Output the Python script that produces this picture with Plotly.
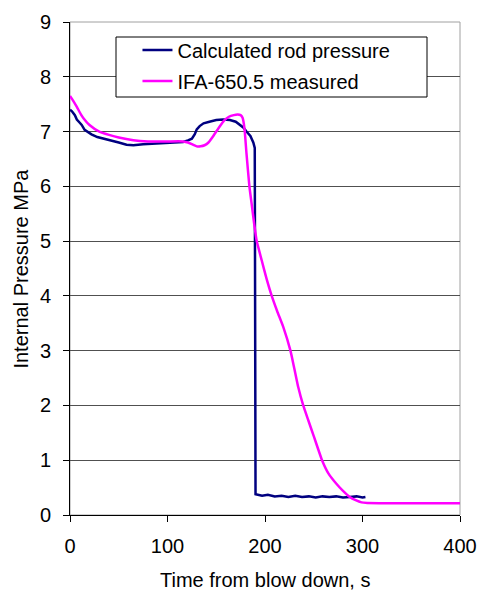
import plotly.graph_objects as go

# Calculated rod pressure (time s, pressure MPa)
calc_t = [0, 2, 5, 7, 10, 12, 15, 18, 22, 28, 35, 41, 50, 58, 65, 75, 85, 95, 105, 116, 121, 125, 128, 130, 133, 137, 143, 150, 157, 164, 170, 174, 178, 181, 185, 188, 189.5,
          190.3, 192, 197, 203, 210, 217, 224, 231, 238, 245, 252, 259, 266, 273, 280, 287, 294, 300, 303]
calc_v = [7.40, 7.37, 7.30, 7.22, 7.16, 7.12, 7.03, 6.99, 6.95, 6.90, 6.87, 6.85, 6.80, 6.76, 6.75, 6.77, 6.78, 6.78, 6.79, 6.81, 6.84, 6.87, 6.95, 7.04, 7.10, 7.15, 7.18, 7.21, 7.22, 7.21, 7.18, 7.13, 7.07, 7.00, 6.92, 6.80, 6.70,
          0.38, 0.37, 0.35, 0.37, 0.34, 0.35, 0.33, 0.35, 0.33, 0.34, 0.32, 0.34, 0.33, 0.34, 0.32, 0.33, 0.34, 0.32, 0.33]

# IFA-650.5 measured
meas_t = [0, 3, 7, 11, 14, 20, 30, 40, 50, 65, 80, 100, 116, 121, 126, 130, 134, 138, 142, 147, 153, 158, 163, 168, 172, 175, 177, 179, 181, 184, 186, 189,
          191.5, 196.6, 201.5, 206.9, 212.5, 218.8, 226.1, 230, 234, 239.2, 244.4, 250, 258.5, 265, 273.2, 280, 286.9, 293, 299, 305, 350, 400]
meas_v = [7.65, 7.57, 7.45, 7.32, 7.24, 7.12, 7.00, 6.94, 6.89, 6.84, 6.82, 6.82, 6.82, 6.80, 6.76, 6.73, 6.73, 6.75, 6.80, 6.92, 7.08, 7.20, 7.27, 7.30, 7.31, 7.30, 7.25, 7.05, 6.60, 6.00, 5.72, 5.30,
          5.00, 4.65, 4.32, 4.00, 3.72, 3.43, 3.00, 2.68, 2.34, 2.00, 1.73, 1.44, 1.00, 0.76, 0.57, 0.44, 0.33, 0.27, 0.23, 0.22, 0.215, 0.215]

x_ticks = [0, 100, 200, 300, 400]
y_ticks = [0, 1, 2, 3, 4, 5, 6, 7, 8, 9]

FONT = "Liberation Sans, Arial, sans-serif"

fig = go.Figure()
fig.add_trace(go.Scatter(x=calc_t, y=calc_v, mode="lines", name="Calculated rod pressure",
                         legendgroup="a", line=dict(color="#000080", width=2.5)))
fig.add_trace(go.Scatter(x=meas_t, y=meas_v, mode="lines", name="IFA-650.5 measured",
                         legendgroup="b", line=dict(color="#FF00FF", width=2.5, shape="spline", smoothing=0.4)))

fig.update_layout(
    width=480, height=592,
    margin=dict(l=70, r=20, t=22, b=77, autoexpand=False),
    paper_bgcolor="white", plot_bgcolor="white",
    font=dict(family=FONT, size=20, color="black"),
    showlegend=True,
    legend=dict(x=0.173, y=0.983, xanchor="left", yanchor="top",
                traceorder="grouped", tracegroupgap=2,
                bgcolor="rgba(0,0,0,0)", borderwidth=0,
                font=dict(family=FONT, size=20, color="black")),
    xaxis=dict(range=[0, 400], tickvals=x_ticks, showgrid=False, zeroline=False, automargin=False,
               showline=True, linecolor="black", linewidth=1,
               ticks="outside", ticklen=6, tickcolor="black",
               ticklabelstandoff=7, tickfont=dict(size=20)),
    yaxis=dict(range=[0, 9], tickvals=y_ticks, showgrid=True, gridcolor="#505050", gridwidth=1,
               zeroline=False, automargin=False, showline=True, linecolor="black", linewidth=1,
               ticks="outside", ticklen=6, tickcolor="black",
               ticklabelstandoff=8, tickfont=dict(size=20)),
    shapes=[
        dict(type="rect", xref="paper", yref="paper", x0=0, x1=1, y0=0, y1=1,
             line=dict(color="#A0A0A0", width=1), layer="between"),
        dict(type="rect", xref="paper", yref="paper",
             x0=(116 - 70) / 390, x1=(427 - 70) / 390,
             y0=(515 - 97) / 493, y1=(515 - 37) / 493,
             line=dict(color="black", width=1), fillcolor="white", layer="above"),
    ],
    annotations=[
        dict(text="Time from blow down, s", xref="paper", yref="paper", x=0.5, y=-0.132,
             xanchor="center", yanchor="middle", showarrow=False, font=dict(size=20)),
        dict(text="Internal Pressure MPa", xref="paper", yref="paper", x=-0.128, y=0.5,
             xanchor="center", yanchor="middle", textangle=-90, showarrow=False, font=dict(size=20)),
    ],
)

fig.write_html("out.html")
